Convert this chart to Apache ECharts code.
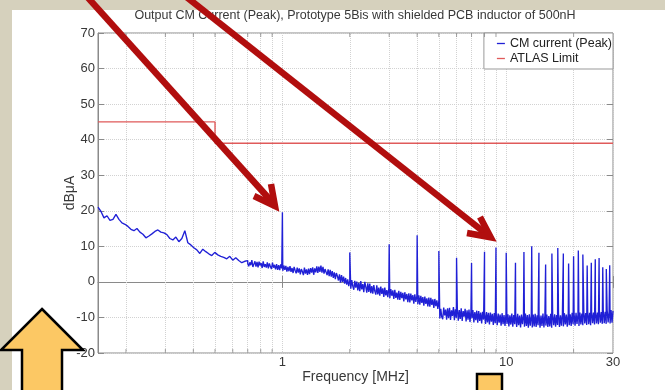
<!DOCTYPE html>
<html><head><meta charset="utf-8">
<script src="https://cdn.jsdelivr.net/npm/echarts@6/dist/echarts.min.js"></script>
<style>html,body{margin:0;padding:0;background:#fff}#c{width:665px;height:390px}</style>
</head><body><div id="c"></div>
<script>
const titleText = 'Output CM Current (Peak), Prototype 5Bis with shielded PCB inductor of 500nH';
const xAxisName = 'Frequency [MHz]';
const yAxisName = 'dBμA';
const seriesNames = ['CM current (Peak)', 'ATLAS Limit'];
const xTickLabels = ['1', '10', '30'];
const xRange = [0.15, 30];
const yRange = [-20, 70];
const yStep = 10;

// measured noise floor, sampled on log-spaced frequency grids per segment
const freqRangeA = [0.15, 0.7];
const noiseA = [21.0, 19.8, 18.0, 18.6, 17.3, 17.6, 19.0, 17.6, 16.6, 16.2,
  15.6, 14.8, 14.4, 15.0, 14.0, 13.4, 12.4, 12.9, 13.5, 14.2,
  14.6, 14.0, 13.8, 13.3, 12.2, 11.8, 12.6, 11.3, 12.2, 14.4,
  11.0, 10.4, 9.6, 9.0, 8.0, 9.2, 8.5, 7.9, 7.4, 8.3,
  7.6, 7.2, 6.9, 6.5, 7.2, 6.1, 6.8, 6.0, 5.4, 5.8, 5.2];

const freqRangeB1 = [0.7, 2];
const noiseB1 = [6.0, 4.4, 5.5, 4.7, 6.1, 4.2, 5.0, 5.8, 4.3, 5.6,
  4.1, 5.7, 4.6, 5.3, 3.9, 5.8, 4.2, 5.0, 4.0, 5.5,
  3.8, 5.2, 4.3, 3.6, 5.4, 4.0, 4.8, 3.5, 5.0, 3.4,
  4.7, 3.3, 4.9, 3.8, 3.1, 4.6, 3.4, 4.5, 2.9, 4.2,
  3.0, 4.4, 2.8, 3.9, 2.5, 4.2, 3.2, 2.4, 4.0, 2.6,
  3.8, 2.1, 3.6, 2.9, 1.9, 4.0, 2.3, 3.5, 2.0, 3.7,
  2.2, 3.9, 2.6, 4.1, 2.0, 3.8, 2.7, 4.4, 2.5, 4.3,
  2.8, 4.6, 2.6, 4.2, 2.3, 3.6, 4.1, 1.9, 3.5, 1.6,
  3.4, 1.5, 3.0, 1.1, 2.7, 0.8, 2.5, 1.6, 0.4, 2.1,
  -0.2, 1.9, 0.0, 1.5, -0.5, 1.1, -0.8, 0.7, -1.2, 0.3];

const freqRangeB2 = [2, 5];
const noiseB2 = [1.0, -1.9, 0.5, -1.2, -2.2, 0.3, -1.6, 0.1, -2.4, -0.3,
  -2.6, 0.2, -2.1, -0.6, -2.9, 0.0, -1.4, -3.0, -0.4, -2.8,
  -0.5, -3.2, -1.2, -3.3, -0.9, -2.6, -3.6, -1.0, -3.5, -1.6,
  -3.9, -1.3, -3.4, -1.8, -4.2, -1.6, -3.8, -2.3, -4.3, -1.9,
  -4.6, -2.0, -3.9, -2.4, -4.8, -2.2, -4.5, -3.0, -5.0, -2.5,
  -5.1, -2.8, -4.6, -3.1, -5.5, -2.9, -4.9, -3.4, -5.7, -3.2,
  -5.8, -3.3, -5.2, -3.7, -6.1, -3.5, -5.6, -4.0, -6.3, -3.8,
  -6.4, -3.9, -5.9, -4.3, -6.7, -4.1, -6.2, -4.6, -6.9, -4.4,
  -7.0, -4.5, -6.5, -4.9, -7.3, -4.8, -6.8, -5.2, -7.6, -5.3];

const freqRangeB3 = [5, 30];
const noiseB3 = [-7.0, -10.3, -7.6, -9.9, -10.5, -7.2, -9.4, -7.8, -10.6, -7.4,
  -10.2, -7.3, -10.7, -8.0, -9.6, -7.1, -10.8, -7.7, -10.1, -7.5,
  -10.9, -7.9, -10.4, -7.4, -11.0, -8.2, -9.8, -7.6, -11.1, -8.0,
  -10.6, -7.8, -11.3, -8.3, -10.2, -7.9, -11.4, -8.5, -10.8, -8.1,
  -11.5, -8.2, -11.0, -8.6, -11.7, -8.4, -10.6, -8.8, -11.8, -8.5,
  -11.4, -8.7, -12.0, -8.6, -11.2, -9.0, -12.1, -8.8, -11.6, -8.9,
  -12.2, -8.9, -11.5, -9.2, -12.3, -8.8, -11.9, -9.3, -12.4, -9.0,
  -11.8, -9.1, -12.5, -9.4, -12.0, -8.9, -12.6, -9.3, -11.9, -9.2,
  -12.7, -9.0, -12.2, -9.5, -12.8, -9.2, -11.9, -9.4, -12.6, -8.9,
  -12.4, -9.3, -12.9, -9.1, -12.3, -9.6, -12.8, -9.2, -12.5, -9.0,
  -12.7, -9.4, -12.2, -9.1, -12.9, -9.5, -12.4, -8.9, -12.8, -9.3,
  -12.3, -9.2, -12.7, -9.6, -12.5, -9.0, -12.9, -9.4, -12.2, -9.1,
  -12.6, -9.3, -12.1, -8.9, -12.7, -9.4, -12.3, -9.0, -12.5, -8.8,
  -12.0, -9.2, -12.6, -8.8, -12.2, -9.1, -12.4, -8.7, -11.9, -9.0,
  -12.3, -8.7, -11.8, -9.1, -12.4, -8.6, -12.0, -8.9, -12.2, -8.5,
  -11.7, -8.8, -12.1, -8.4, -11.9, -8.7, -12.2, -8.5, -11.6, -8.6,
  -12.0, -8.3, -11.7, -8.6, -11.9, -8.2, -11.5, -8.5, -11.8, -8.1,
  -11.6, -8.4, -11.8, -8.0, -11.4, -8.3, -11.7, -7.9, -11.5, -8.2];

// harmonic spikes (MHz, peak dBμA)
const spikeFreqs = [1, 2, 3, 4, 5, 6, 7, 8, 9, 10, 11, 12, 13, 14, 15, 16, 17, 18, 19, 20, 21, 22, 23, 24, 25, 26, 27, 28, 29];
const spikePeaks = [19.6, 8.3, 10.6, 13.1, 8.7, 6.8, 5.3, 8.5, 9.7, 8.2, 5.4, 8.4, 10.0, 8.2, 4.9, 8.0, 9.5, 8.0, 5.2, 7.2, 8.8, 7.7, 4.6, 5.4, 6.4, 6.7, 4.1, 3.6, 4.7];

// ATLAS limit
const limitFreqs = [0.15, 0.5, 0.5, 30];
const limitValues = [45, 45, 39, 39];

// minor log grid positions
const minorFreqs = [0.2, 0.3, 0.4, 0.5, 0.6, 0.7, 0.8, 0.9, 2, 3, 4, 5, 6, 7, 8, 9, 20];

function segment(range, vals) {
  const n = vals.length;
  return vals.map((v, i) => [range[0] * Math.pow(range[1] / range[0], i / (n - 1)), v]);
}
const noisePts = [].concat(
  segment(freqRangeA, noiseA),
  segment(freqRangeB1, noiseB1),
  segment(freqRangeB2, noiseB2),
  segment(freqRangeB3, noiseB3)
);
const spikePts = spikeFreqs.map((f, i) => [f, spikePeaks[i]]);
const cmData = noisePts.concat(spikePts).sort((a, b) => a[0] - b[0]);
const limitData = limitFreqs.map((f, i) => [f, limitValues[i]]);

const FONT = '"Liberation Sans", Arial, Helvetica, sans-serif';
const TXT = '#383838';
const AX = '#8a8a8a';
const GRIDC = '#d2d2d2';

const chart = echarts.init(document.getElementById('c'), null, {renderer: 'canvas'});
chart.setOption({
  animation: false,
  backgroundColor: '#ffffff',
  textStyle: {fontFamily: FONT},
  title: {
    text: titleText, left: 355, top: 9, textAlign: 'center', padding: 0,
    textStyle: {fontSize: 12.5, fontWeight: 'normal', color: TXT, fontFamily: FONT}
  },
  legend: {
    data: seriesNames, orient: 'vertical', right: 52, top: 33,
    icon: 'rect', itemWidth: 8, itemHeight: 1.3, itemGap: 2,
    padding: [4, 1, 4, 13],
    backgroundColor: '#fff', borderColor: '#999', borderWidth: 1, borderRadius: 0,
    textStyle: {fontSize: 12.5, color: '#222', fontFamily: FONT}
  },
  grid: {
    left: 98, right: 52, top: 33, bottom: 37, containLabel: false,
    show: true, borderColor: AX, borderWidth: 1, backgroundColor: '#fff'
  },
  xAxis: [{
    type: 'log', logBase: 10, min: xRange[0], max: xRange[1], position: 'bottom',
    name: xAxisName, nameLocation: 'middle', nameGap: 17, nameMoveOverlap: false,
    nameTextStyle: {fontSize: 14, color: TXT, fontFamily: FONT},
    axisLine: {show: true, lineStyle: {color: AX}},
    axisTick: {show: true, inside: true, length: 6, lineStyle: {color: AX}},
    axisLabel: {
      show: true, margin: 3, fontSize: 13, color: TXT, fontFamily: FONT,
      showMinLabel: true, showMaxLabel: true,
      formatter: v => { const s = String(Math.round(v * 100) / 100); return xTickLabels.indexOf(s) >= 0 ? s : ''; }
    },
    splitLine: {show: true, lineStyle: {color: GRIDC, type: 'dotted'}},
    minorTick: {show: false}, minorSplitLine: {show: false}
  }, {
    type: 'log', logBase: 10, min: xRange[0], max: xRange[1], position: 'top',
    axisLine: {show: false}, axisLabel: {show: false}, splitLine: {show: false},
    axisTick: {show: true, inside: true, length: 6, lineStyle: {color: AX}}
  }],
  yAxis: [{
    type: 'value', min: yRange[0], max: yRange[1], interval: yStep, position: 'left',
    name: yAxisName, nameLocation: 'middle', nameGap: 21, nameRotate: 90, nameMoveOverlap: false,
    nameTextStyle: {fontSize: 14, color: TXT, fontFamily: FONT},
    axisLine: {show: true, lineStyle: {color: AX}},
    axisTick: {show: true, inside: true, length: 6, lineStyle: {color: AX}},
    axisLabel: {margin: 3, fontSize: 13, color: TXT, fontFamily: FONT},
    splitLine: {show: true, lineStyle: {color: GRIDC, type: 'dotted'}}
  }, {
    type: 'value', min: yRange[0], max: yRange[1], interval: yStep, position: 'right',
    axisLine: {show: false}, axisLabel: {show: false}, splitLine: {show: false},
    axisTick: {show: true, inside: true, length: 6, lineStyle: {color: AX}}
  }],
  series: [{
    name: seriesNames[1], type: 'line', data: limitData, xAxisIndex: 0, yAxisIndex: 0,
    showSymbol: false, symbol: 'none', silent: true,
    lineStyle: {color: '#e05a5a', width: 1.4}, itemStyle: {color: '#e05a5a'}, z: 3
  }, {
    name: seriesNames[0], type: 'line', data: cmData, xAxisIndex: 0, yAxisIndex: 0,
    showSymbol: false, symbol: 'none', silent: true, sampling: null,
    lineStyle: {color: '#2020d6', width: 1.35}, itemStyle: {color: '#2020d6'}, z: 4
  }, {
    name: 'minorBottom', type: 'scatter', xAxisIndex: 0, yAxisIndex: 0, silent: true,
    data: minorFreqs.map(f => [f, yRange[0]]), symbol: 'rect', symbolSize: [1, 4], symbolOffset: [0, -2],
    itemStyle: {color: AX}, clip: false, z: 5,
    markLine: {
      silent: true, symbol: ['none', 'none'], label: {show: false},
      lineStyle: {color: GRIDC, type: 'dotted', width: 1},
      data: minorFreqs.map(f => ({xAxis: f})), z: 1
    }
  }, {
    name: 'minorTop', type: 'scatter', xAxisIndex: 0, yAxisIndex: 0, silent: true,
    data: minorFreqs.map(f => [f, yRange[1]]), symbol: 'rect', symbolSize: [1, 4], symbolOffset: [0, 2],
    itemStyle: {color: AX}, clip: false, z: 5
  }],
  graphic: [
    {type: 'rect', shape: {x: 0, y: 0, width: 665, height: 10}, style: {fill: '#d6d1bd'}, z: 50},
    {type: 'rect', shape: {x: 0, y: 0, width: 12, height: 390}, style: {fill: '#d6d1bd'}, z: 50},
    {type: 'polyline', shape: {points: [[81, -10], [273, 203]]}, style: {stroke: '#b10e0e', lineWidth: 6.5, fill: null}, z: 100},
    {type: 'polyline', shape: {points: [[254, 196], [275, 206], [271, 184]]}, style: {stroke: '#b10e0e', lineWidth: 6.5, fill: null, lineJoin: 'miter'}, z: 100},
    {type: 'polyline', shape: {points: [[177.6, -10], [488, 235.2]]}, style: {stroke: '#b10e0e', lineWidth: 6.5, fill: null}, z: 100},
    {type: 'polyline', shape: {points: [[467, 233], [490.7, 237.3], [480, 217]]}, style: {stroke: '#b10e0e', lineWidth: 6.5, fill: null, lineJoin: 'miter'}, z: 100},
    {type: 'polygon', shape: {points: [[42, 309], [83, 350], [62, 350], [62, 396], [22, 396], [22, 350], [1, 350]]}, style: {fill: '#fcc864', stroke: '#000', lineWidth: 2.5}, z: 100},
    {type: 'rect', shape: {x: 477, y: 374, width: 25, height: 22}, style: {fill: '#fcc864', stroke: '#000', lineWidth: 2.5}, z: 100}
  ]
});
</script></body></html>
